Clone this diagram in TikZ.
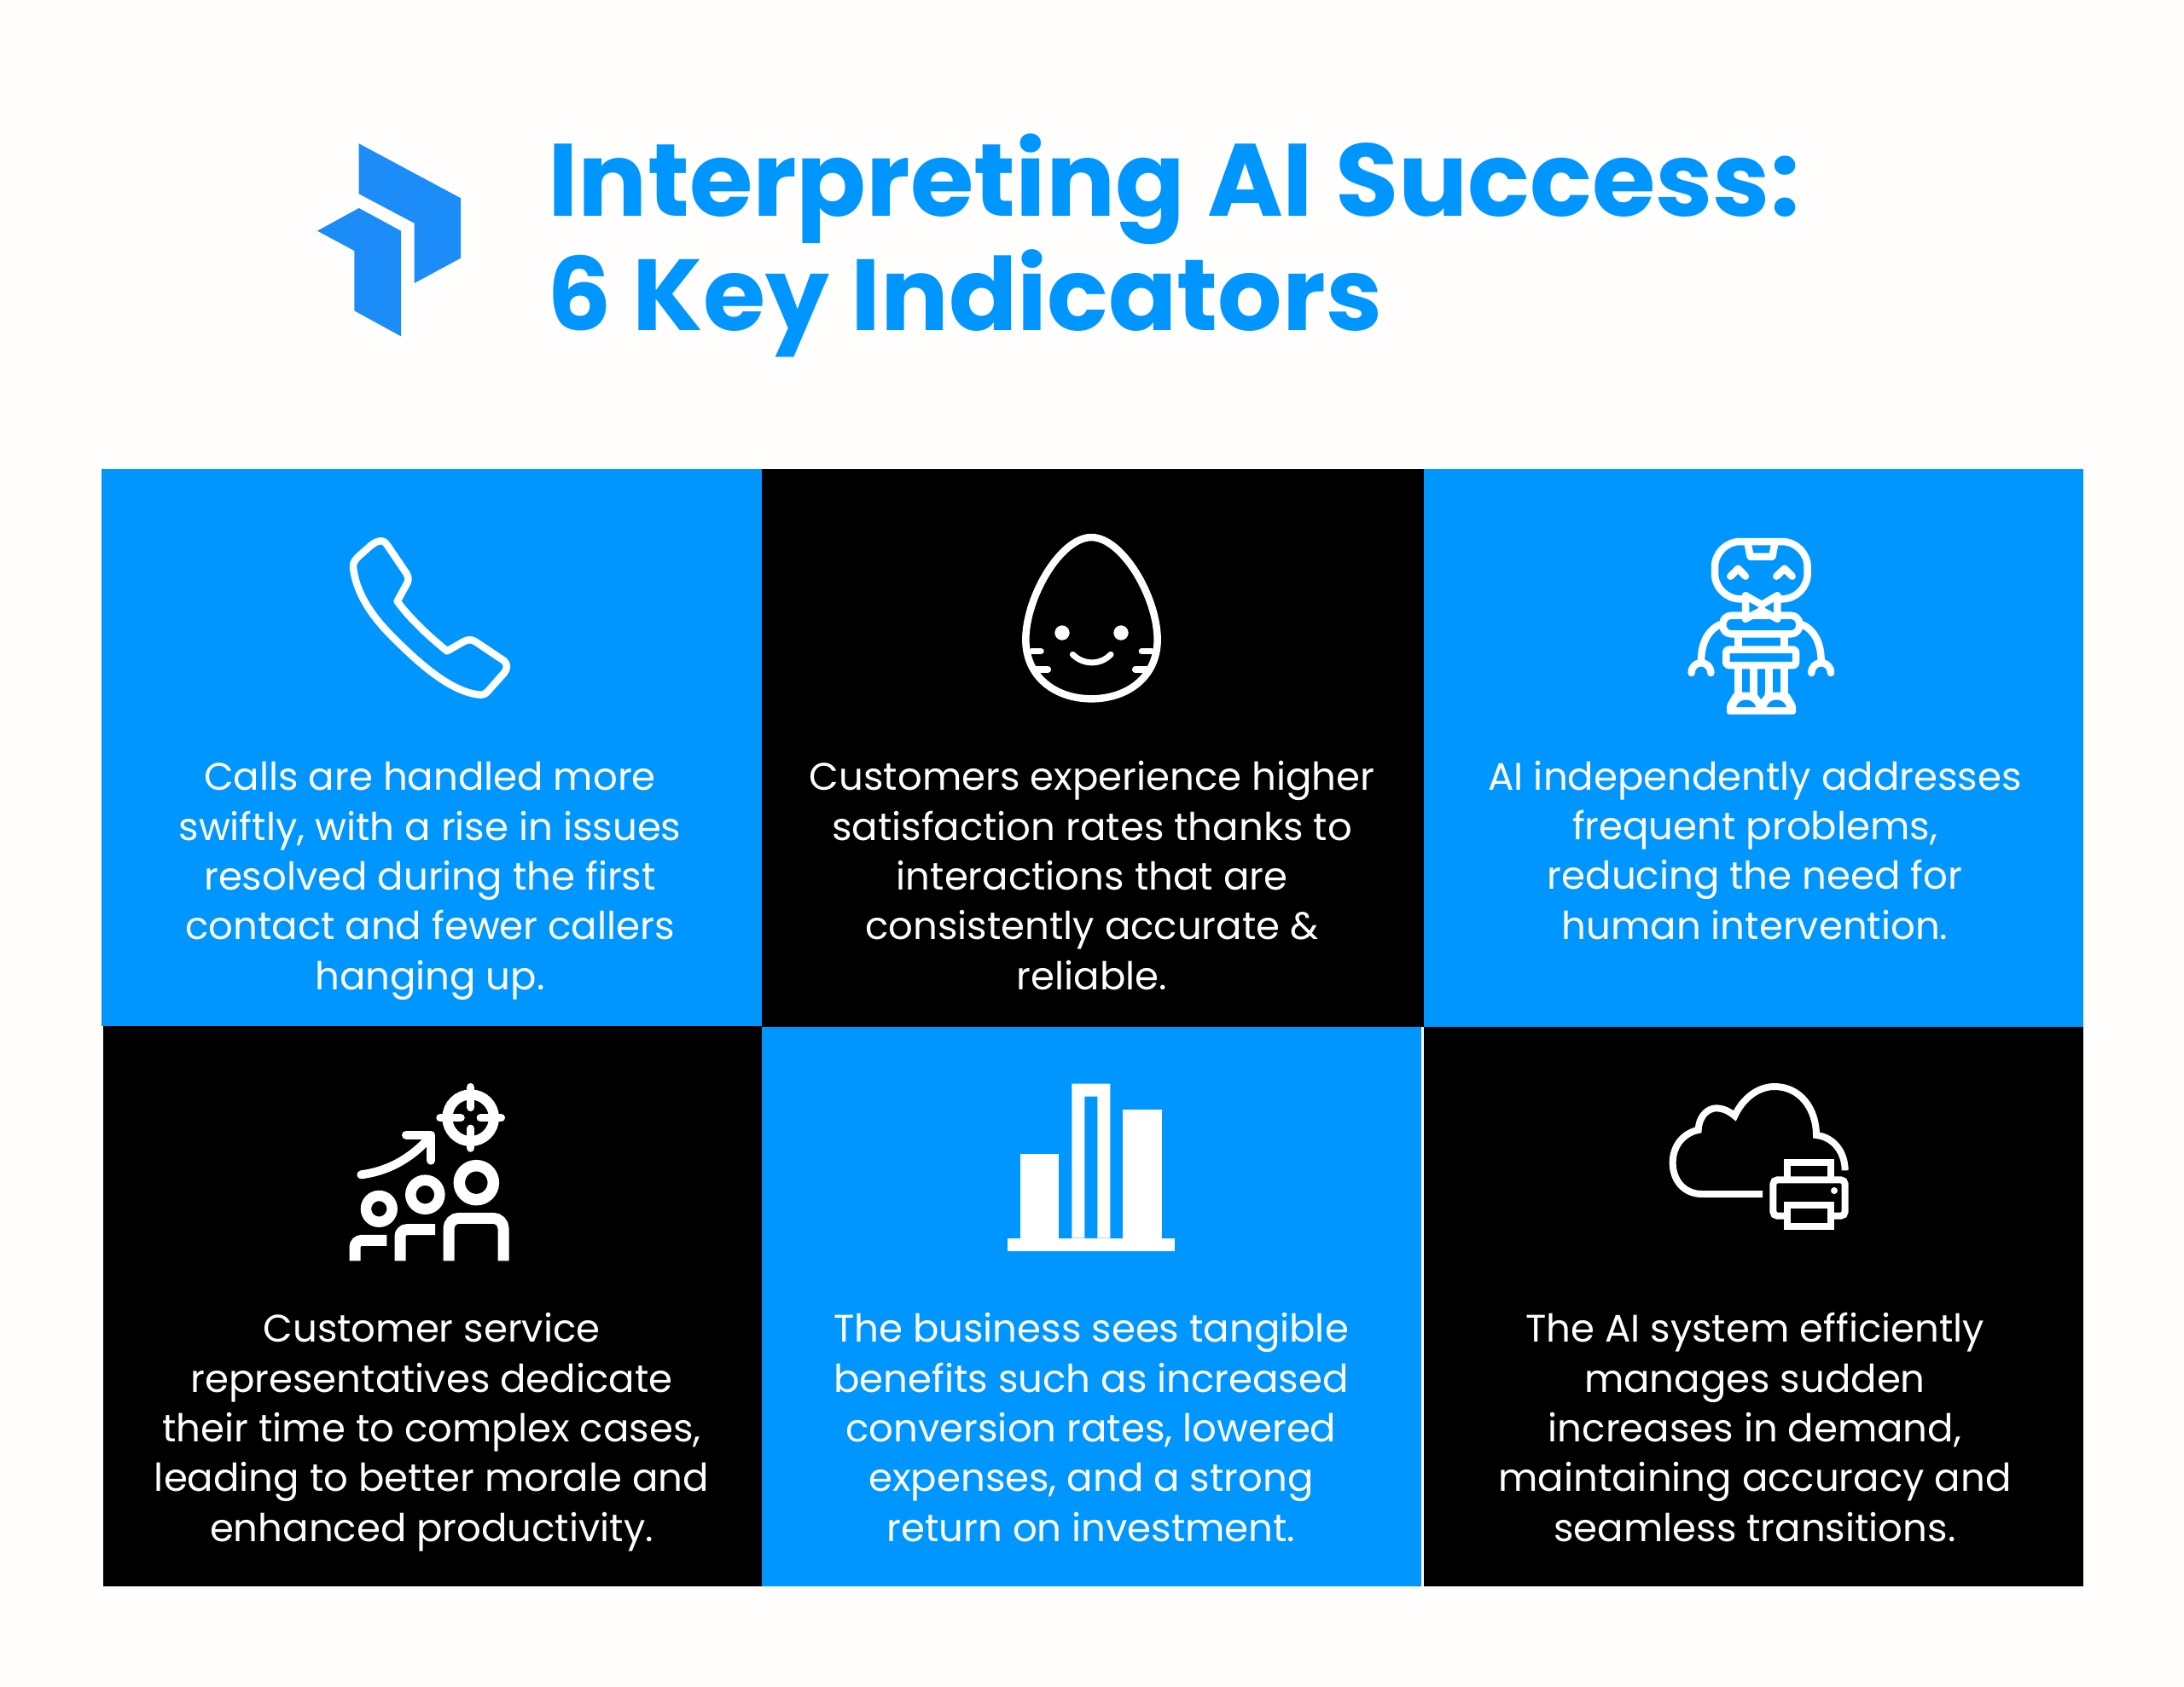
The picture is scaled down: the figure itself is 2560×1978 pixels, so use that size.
\documentclass[tikz,border=0pt]{standalone}
\usepackage{fontspec}
\setmainfont{Poppins}
\definecolor{pagebg}{HTML}{FFFEFD}
\definecolor{cellblue}{HTML}{0096FF}
\definecolor{logoblue}{HTML}{1B8CF8}
\tikzset{
	cellbox/.style={inner sep=0pt,outer sep=0pt,anchor=north west},
	bodytext/.style={text=white,align=center,inner sep=0pt,anchor=base,font=\fontsize{45}{58.3}\selectfont},
	titletext/.style={text=cellblue,inner sep=0pt,anchor=base west},
	iconline/.style={draw=white,line width=#1,line cap=round,line join=round},
	iconline/.default=8.5pt
}
\begin{document}
\begin{tikzpicture}[x=1pt,y=-1pt]
	\useasboundingbox (0,0) rectangle (2560,1978);
	\fill[pagebg] (0,0) rectangle (2560,1978);
	% logo
	\fill[logoblue] (420.7,168.3) -- (540,232.3) -- (540,302.7) -- (485.7,332) -- (485.7,261.7) -- (420.7,227.3) -- cycle;
	\fill[logoblue] (420.7,244) -- (470,270.7) -- (470,394.3) -- (415.3,364.3) -- (415.3,294) -- (372,270.7) -- cycle;
	\node[titletext,font=\fontsize{120.6}{134}\selectfont\bfseries] (titleone) at (642,253) {Interpreting AI Success:};
	\node[titletext,font=\fontsize{118.5}{134}\selectfont\bfseries] (titletwo) at (641,387) {6 Key Indicators};
	% cells
	\node[cellbox,fill=cellblue,minimum width=774pt,minimum height=653pt] (calls) at (119,550) {};
	\node[cellbox,fill=black,minimum width=776pt,minimum height=654pt] (customers) at (893,550) {};
	\node[cellbox,fill=cellblue,minimum width=773pt,minimum height=654pt] (independent) at (1669,550) {};
	\node[cellbox,fill=black,minimum width=772pt,minimum height=657pt] (staff) at (121,1203) {};
	\node[cellbox,fill=cellblue,minimum width=773pt,minimum height=656pt] (business) at (893,1204) {};
	\node[cellbox,fill=black,minimum width=773pt,minimum height=656pt] (surge) at (1669,1204) {};
	% phone
	\begin{scope}[shift={(380,600)},scale=1/3]
		\draw[iconline] (200,103) .. controls (212,103) and (218,112) .. (225,122) -- (290,218)
		.. controls (298,232) and (297,245) .. (288,258) -- (257,315)
		.. controls (300,375) and (370,440) .. (432,490) -- (492,456)
		.. controls (510,447) and (522,450) .. (535,459) -- (632,524)
		.. controls (645,535) and (645,553) .. (632,568) -- (575,632)
		.. controls (565,644) and (555,645) .. (540,643)
		.. controls (440,630) and (330,530) .. (240,440)
		.. controls (150,350) and (110,270) .. (102,195)
		.. controls (101,178) and (110,168) .. (122,156) -- (165,118)
		.. controls (180,107) and (190,103) .. (200,103) -- cycle;
	\end{scope}
	% egg
	\begin{scope}[shift={(1170,610)},scale=1/3]
		\draw[iconline] (328,60) .. controls (220,60) and (97,270) .. (97,420)
		.. controls (97,550) and (200,628) .. (328,628)
		.. controls (456,628) and (560,550) .. (560,420)
		.. controls (560,270) and (436,60) .. (328,60) -- cycle;
		\fill[white] (225,396) circle[radius=26] (432,396) circle[radius=26];
		\draw[iconline=7pt] (262,472) .. controls (300,510) and (360,510) .. (396,472);
		\draw[iconline=7.5pt] (118,461) -- (150,461) (135,525) -- (175,525) (505,461) -- (540,461) (482,525) -- (522,525);
	\end{scope}
	% robot
	\begin{scope}[shift={(1960,615)},scale=1/3]
		\draw[iconline,rounded corners=30pt] (262,262) -- (150,262) -- (150,60) -- (476,60) -- (476,262) -- (368,262);
		\draw[iconline] (265,62) -- (275,113) -- (352,113) -- (362,62);
		\draw[iconline] (205,182) -- (232,155) -- (258,182) (367,182) -- (395,155) -- (422,182);
		\draw[iconline,rounded corners=10pt] (178,320) rectangle (448,385);
		\draw[draw=white,line width=8.5pt] (232,385) -- (232,440) (394,385) -- (394,440);
		\draw[iconline,rounded corners=3pt] (190,440) rectangle (435,495);
		\draw[draw=white,line width=8.5pt] (232,495) -- (232,600) (286,495) -- (286,600) (340,495) -- (340,600) (394,495) -- (394,600);
		\fill[white,rounded corners=3pt] (218,590) -- (408,590) -- (435,635) -- (435,668) -- (192,668) -- (192,635) -- cycle;
		\fill[cellblue] (300,585) -- (326,585) -- (326,598) -- (313,615) -- (300,598) -- cycle;
		\fill[cellblue] (225,642) .. controls (235,608) and (285,608) .. (295,642) -- cycle;
		\fill[cellblue] (332,642) .. controls (342,608) and (392,608) .. (402,642) -- cycle;
		\filldraw[iconline,fill=cellblue] (258,250) -- (315,282) -- (370,250) -- (370,332) -- (315,302) -- (258,332) -- cycle;
		\draw[iconline] (315,282) -- (315,302);
		\draw[iconline] (168,352) .. controls (120,375) and (102,425) .. (102,482);
		\draw[iconline] (458,352) .. controls (506,375) and (524,425) .. (524,482);
		\draw[iconline] (68,522) .. controls (68,475) and (136,475) .. (136,522);
		\draw[iconline] (490,522) .. controls (490,475) and (558,475) .. (558,522);
	\end{scope}
	% people and target
	\begin{scope}[shift={(400,1260)},scale=1/3]
		\draw[draw=white,line width=12pt] (455,152) circle[radius=82];
		\draw[iconline=9.5pt] (455,44) -- (455,115) (455,190) -- (455,258) (348,152) -- (420,152) (490,152) -- (562,152);
		\draw[iconline=10pt] (70,352) .. controls (160,340) and (240,300) .. (310,222);
		\draw[iconline=10pt] (228,212) -- (316,212) -- (316,302);
		\draw[draw=white,line width=12.5pt] (133,472) circle[radius=46];
		\draw[draw=white,line width=12.5pt] (295,422) circle[radius=51];
		\draw[draw=white,line width=13.5pt] (475,380) circle[radius=60];
		\draw[draw=white,line width=13pt,rounded corners=8pt] (48,655) -- (48,583) -- (160,583);
		\draw[draw=white,line width=13pt,rounded corners=8pt] (207,655) -- (207,545) -- (330,545);
		\draw[draw=white,line width=13pt,rounded corners=12pt] (378,655) -- (378,505) -- (570,505) -- (570,655);
	\end{scope}
	% bars
	\begin{scope}[shift={(1170,1260)},scale=1/3]
		\fill[white] (32,575) rectangle (620,620);
		\fill[white] (77,280) rectangle (213,575);
		\fill[white,even odd rule] (259,32) rectangle (394,575) (304,77) rectangle (349,575);
		\fill[white] (439,122) rectangle (575,575);
	\end{scope}
	% cloud and printer
	\begin{scope}[shift={(1940,1250)},scale=1/3]
		\draw[draw=white,line width=8pt] (378,450) -- (165,450) .. controls (100,450) and (62,400) .. (62,340)
		.. controls (62,280) and (100,235) .. (152,225) .. controls (155,170) and (190,148) .. (215,148)
		.. controls (240,148) and (262,160) .. (280,175) .. controls (310,110) and (365,72) .. (420,72)
		.. controls (510,72) and (567,150) .. (567,243) .. controls (630,250) and (668,305) .. (668,367);
		\draw[draw=white,line width=8pt] (466,400) -- (466,338) -- (617,338) -- (617,400);
		\draw[draw=white,line width=8pt,rounded corners=5pt] (415,400) rectangle (668,527);
		\filldraw[draw=white,line width=8pt,fill=black] (466,488) rectangle (617,564);
		\fill[white] (630,438) circle[radius=12];
	\end{scope}
	% texts
	\node[bodytext] (callstext) at (504,1160) {Calls are handled more~\\swiftly, with a rise in issues~\\resolved during the first~\\contact and fewer callers~\\hanging up.};
	\node[bodytext] (customerstext) at (1280,1160) {Customers experience higher~\\satisfaction rates thanks to~\\interactions that are~\\consistently accurate \&~\\reliable.};
	\node[bodytext] (independenttext) at (2057,1101) {AI independently addresses~\\frequent problems,~\\reducing the need for~\\human intervention.};
	\node[bodytext] (stafftext) at (506,1807) {Customer service~\\representatives dedicate~\\their time to complex cases,~\\leading to better morale and~\\enhanced productivity.};
	\node[bodytext] (businesstext) at (1279,1807) {The business sees tangible~\\benefits such as increased~\\conversion rates, lowered~\\expenses, and a strong~\\return on investment.};
	\node[bodytext] (surgetext) at (2057,1807) {The AI system efficiently~\\manages sudden~\\increases in demand,~\\maintaining accuracy and~\\seamless transitions.};
\end{tikzpicture}
\end{document}
